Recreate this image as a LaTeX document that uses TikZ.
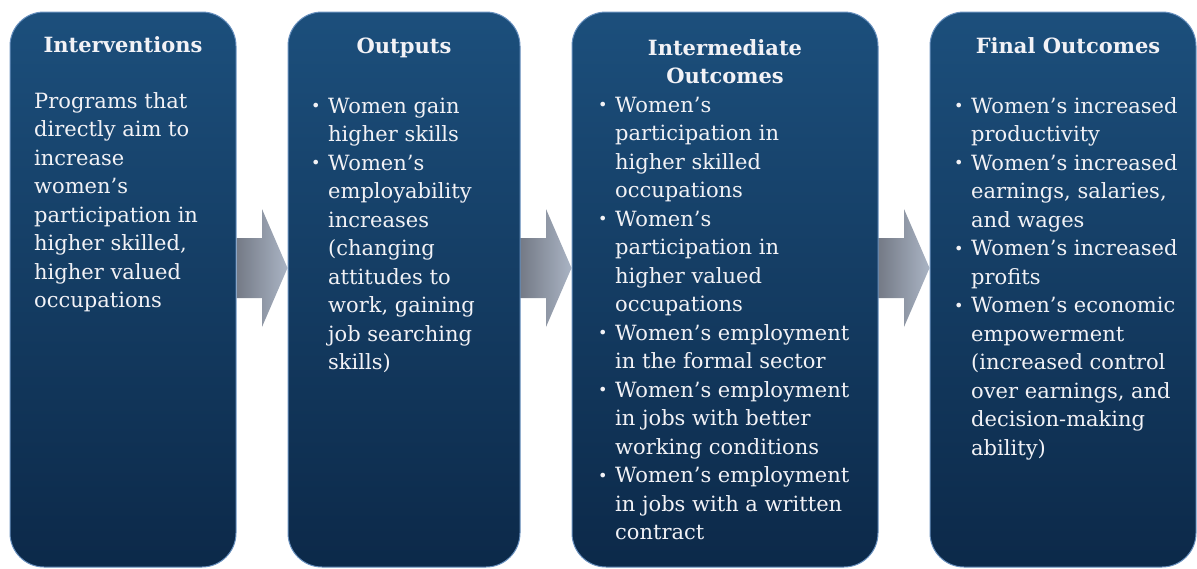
\documentclass[tikz,border=0pt]{standalone}
\usepackage{fontspec}
\setmainfont{DejaVu Serif}
\usetikzlibrary{calc,backgrounds}
\definecolor{boxtop}{RGB}{28,79,124}
\definecolor{boxbot}{RGB}{12,41,73}
\definecolor{boxrim}{RGB}{104,144,190}
\definecolor{arrdark}{RGB}{116,122,134}
\definecolor{arrlight}{RGB}{170,180,196}
\definecolor{txt}{RGB}{242,242,246}
\newcommand{\itm}{\makebox[18pt][l]{\hspace*{1pt}\raisebox{1.5pt}{\fontsize{16}{16}\selectfont\textbullet}}}
\newcommand{\ind}{\hspace*{18pt}}
\tikzset{
  stage/.style={draw=boxrim, line width=1pt, rounded corners=34pt,
    top color=boxtop, bottom color=boxbot, minimum height=555pt, inner sep=0pt},
  stagetitle/.style={anchor=north, align=center, text=txt, inner sep=0pt,
    font=\bfseries\fontsize{21}{28}\selectfont},
  stagetext/.style={anchor=north west, align=left, text=txt, inner sep=0pt,
    font=\fontsize{21}{28.5}\selectfont},
  flowarrow/.style={left color=arrdark, right color=arrlight}
}

\begin{document}
\begin{tikzpicture}[x=1pt,y=-1pt]
    \useasboundingbox (0,0) rectangle (1197,568);

    % the four stages
    \node[stage, minimum width=226pt] (inter) at (123,289.5) {};
    \node[stage, minimum width=232pt] (outp) at (404,289.5) {};
    \node[stage, minimum width=306pt] (interm) at (725,289.5) {};
    \node[stage, minimum width=266pt] (final) at (1063,289.5) {};

    \node[stagetitle] (intertitle) at (123,32.4) {\strut Interventions};
    \node[stagetitle] (outptitle) at (404,33.4) {\strut Outputs};
    \node[stagetitle] (intermtitle) at (725,35.4) {\strut Intermediate\\Outcomes};
    \node[stagetitle] (finaltitle) at (1068,33.4) {\strut Final Outcomes};

    \node[stagetext] (intertext) at (34,88) {\strut Programs that\\directly aim to\\increase\\women’s\\participation in\\higher skilled,\\higher valued\\occupations};

    \node[stagetext] (outptext) at (310,93) {\strut\itm Women gain\\\ind higher skills\\\itm Women’s\\\ind employability\\\ind increases\\\ind (changing\\\ind attitudes to\\\ind work, gaining\\\ind job searching\\\ind skills)};

    \node[stagetext] (intermtext) at (597,92) {\strut\itm Women’s\\\ind participation in\\\ind higher skilled\\\ind occupations\\\itm Women’s\\\ind participation in\\\ind higher valued\\\ind occupations\\\itm Women’s employment\\\ind in the formal sector\\\itm Women’s employment\\\ind in jobs with better\\\ind working conditions\\\itm Women’s employment\\\ind in jobs with a written\\\ind contract};

    \node[stagetext] (finaltext) at (953,93) {\strut\itm Women’s increased\\\ind productivity\\\itm Women’s increased\\\ind earnings, salaries,\\\ind and wages\\\itm Women’s increased\\\ind profits\\\itm Women’s economic\\\ind empowerment\\\ind (increased control\\\ind over earnings, and\\\ind decision-making\\\ind ability)};

    % arrows between the stages
    \coordinate (htop) at (0,209);
    \coordinate (stop) at (0,238);
    \coordinate (tip) at (0,268);
    \coordinate (sbot) at (0,298);
    \coordinate (hbot) at (0,327);
    \begin{scope}[on background layer]
        \foreach \a/\b in {inter/outp, outp/interm, interm/final}{
            \coordinate (mid) at ($(\a.east)!0.5!(\b.west)$);
            \shade[flowarrow] (\a.east |- stop) -- (mid |- stop) -- (mid |- htop) -- (\b.west |- tip)
                -- (mid |- hbot) -- (mid |- sbot) -- (\a.east |- sbot) -- cycle;
        }
    \end{scope}
\end{tikzpicture}
\end{document}
